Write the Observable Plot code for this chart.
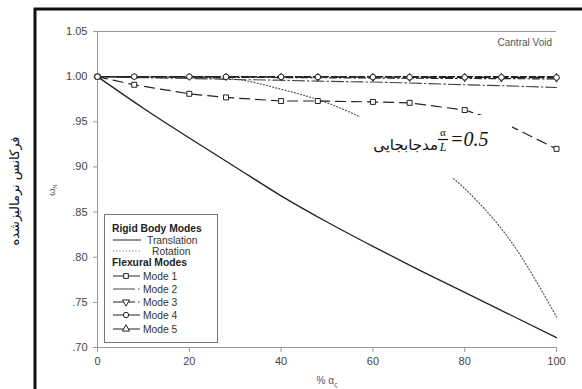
<!DOCTYPE html>
<html>
<head>
<meta charset="utf-8">
<script src="https://cdn.jsdelivr.net/npm/d3@7"></script>
<script src="https://cdn.jsdelivr.net/npm/@observablehq/plot@0.6"></script>
<style>
  html, body { margin: 0; padding: 0; background: #fff; }
  svg { display: block; }
</style>
</head>
<body>
<div id="chart"></div>
<script>
// ---- data ----
const xTicks = [0, 20, 40, 60, 80, 100];
const yTicks = [0.70, 0.75, 0.80, 0.85, 0.90, 0.95, 1.00, 1.05];
const yTickLabels = [".70", ".75", ".80", ".85", ".90", ".95", "1.00", "1.05"];

const xCurve = [0, 10, 20, 30, 40, 50, 60, 70, 80, 90, 100];
const translation = [1.000, 0.965, 0.932, 0.900, 0.868, 0.839, 0.812, 0.786, 0.761, 0.736, 0.711];
const rotation    = [1.000, 0.9995, 0.999, 0.997, 0.986, 0.971, 0.948, 0.916, 0.876, 0.818, 0.734];

const xMarkers = [0, 8, 20, 28, 40, 48, 60, 68, 80, 88, 100];
const mode1 = [1.000, 0.991, 0.981, 0.977, 0.973, 0.973, 0.972, 0.971, 0.963, 0.950, 0.920];
const mode2 = [1.000, 0.999, 0.998, 0.997, 0.996, 0.995, 0.994, 0.993, 0.991, 0.990, 0.988];
const mode3 = [1.000, 0.9998, 0.9995, 0.9993, 0.999, 0.9988, 0.9985, 0.9983, 0.998, 0.9978, 0.9975];
const mode4 = [1.000, 1.000, 1.000, 0.9998, 0.9997, 0.9996, 0.9995, 0.9994, 0.9993, 0.9992, 0.999];
const mode5 = [1.000, 1.000, 1.000, 1.000, 1.000, 1.000, 1.000, 1.000, 1.000, 1.000, 1.000];

const legendRigid = ["Translation", "Rotation"];
const legendModes = ["Mode 1", "Mode 2", "Mode 3", "Mode 4", "Mode 5"];

// ---- tables ----
const curveRows = (ys) => xCurve.map((x, i) => ({x, y: ys[i]}));
const markRows = (ys) => xMarkers.map((x, i) => ({x, y: ys[i]}));

const ink = "#222";
const axisGray = "#999";

const styles = {
  translation: {stroke: ink, strokeWidth: 1.3},
  rotation: {stroke: "#555", strokeWidth: 1.2, strokeDasharray: "1,2.2"},
  mode1: {stroke: ink, strokeWidth: 1.2, strokeDasharray: "10,6"},
  mode2: {stroke: "#444", strokeWidth: 1.1, strokeDasharray: "12,3,1.5,3"},
  mode3: {stroke: ink, strokeWidth: 1.2, strokeDasharray: "7,3,1.5,3"},
  mode4: {stroke: ink, strokeWidth: 1.4, strokeDasharray: "14,4"},
  mode5: {stroke: ink, strokeWidth: 1.4, strokeDasharray: "6,3"}
};

const dotOpts = {fill: "white", stroke: ink, strokeWidth: 1, r: 2.8};
const triOpts = {fill: "white", stroke: ink, strokeWidth: 1, r: 2.1};

const chart = Plot.plot({
  width: 582,
  height: 389,
  marginLeft: 97,
  marginRight: 26,
  marginTop: 31,
  marginBottom: 42,
  style: {fontFamily: "'Liberation Sans', Arial, sans-serif", fontSize: "11px", background: "white"},
  x: {domain: [0, 100], label: null},
  y: {domain: [0.70, 1.05], label: null},
  marks: [
    Plot.axisX(xTicks, {tickSize: 5, tickPadding: 5, stroke: axisGray, fill: "#444", label: null}),
    Plot.axisY(yTicks, {tickSize: 4, tickPadding: 6, stroke: axisGray, fill: "#444", label: null,
      tickFormat: d => yTickLabels[yTicks.findIndex(t => Math.abs(t - d) < 1e-9)]}),
    Plot.ruleX([0], {stroke: axisGray}),
    Plot.ruleY([0.70], {stroke: axisGray}),
    Plot.ruleY([1.05], {stroke: axisGray}),
    Plot.line(curveRows(translation), {x: "x", y: "y", curve: "monotone-x", ...styles.translation}),
    Plot.line(curveRows(rotation), {x: "x", y: "y", curve: "monotone-x", ...styles.rotation}),
    Plot.line(markRows(mode1), {x: "x", y: "y", ...styles.mode1}),
    Plot.line(markRows(mode2), {x: "x", y: "y", ...styles.mode2}),
    Plot.line(markRows(mode3), {x: "x", y: "y", ...styles.mode3}),
    Plot.line(markRows(mode4), {x: "x", y: "y", ...styles.mode4}),
    Plot.line(markRows(mode5), {x: "x", y: "y", ...styles.mode5}),
    Plot.dot(markRows(mode1), {x: "x", y: "y", symbol: "square", ...dotOpts}),
    Plot.dot(markRows(mode3), {x: "x", y: "y", symbol: "triangle", rotate: 180, ...triOpts}),
    Plot.dot(markRows(mode5), {x: "x", y: "y", symbol: "triangle", ...triOpts}),
    Plot.dot(markRows(mode4), {x: "x", y: "y", symbol: "circle", ...dotOpts})
  ]
});

document.getElementById("chart").appendChild(chart);

// ---- decorations ----
const svg = d3.select(chart);
const sans = "'Liberation Sans', Arial, sans-serif";
const serif = "'Liberation Serif', 'Times New Roman', serif";

// outer black frame (open at right/bottom, clipped by the window)
svg.append("path")
  .attr("d", "M35,392 L35,9 L585,9")
  .attr("fill", "none").attr("stroke", "#111").attr("stroke-width", 3);

// Persian y title
svg.append("text")
  .attr("transform", "translate(19,191) rotate(-90)")
  .attr("text-anchor", "middle")
  .attr("font-family", "'DejaVu Sans', 'Noto Sans', sans-serif")
  .attr("font-size", 13).attr("fill", "#111")
  .text("فرکانس نرمالیزشده");

// omega_N label
const wl = svg.append("text")
  .attr("transform", "translate(55,190) rotate(-90)")
  .attr("text-anchor", "middle")
  .attr("font-family", sans).attr("font-size", 9).attr("fill", "#555");
wl.append("tspan").text("ω");
wl.append("tspan").attr("font-size", 6).attr("dy", 2).text("N");

// x label
const xl = svg.append("text")
  .attr("x", 327).attr("y", 384)
  .attr("text-anchor", "middle")
  .attr("font-family", sans).attr("font-size", 10).attr("fill", "#555");
xl.append("tspan").text("% α");
xl.append("tspan").attr("font-size", 7).attr("dy", 3).text("ς");

// Cantral Void
svg.append("text")
  .attr("x", 552).attr("y", 46)
  .attr("text-anchor", "end")
  .attr("font-family", sans).attr("font-size", 10).attr("fill", "#555")
  .text("Cantral Void");

// legend
const lg = svg.append("g").attr("font-family", sans).attr("font-size", 10.3).attr("fill", "#333")
  .attr("text-anchor", "start");
lg.append("rect").attr("x", 104.5).attr("y", 214.5).attr("width", 113).attr("height", 128)
  .attr("fill", "white").attr("stroke", "#777").attr("stroke-width", 1);
lg.append("text").attr("x", 112).attr("y", 232).attr("font-weight", "bold").attr("fill", "#222").text("Rigid Body Modes");
lg.append("text").attr("x", 112).attr("y", 266).attr("font-weight", "bold").attr("fill", "#222").text("Flexural Modes");

const rigidStyles = [styles.translation, styles.rotation];
const rigidY = [240, 251];
const rigidTextX = [147, 152];
legendRigid.forEach((name, i) => {
  const s = rigidStyles[i];
  lg.append("line").attr("x1", 113).attr("x2", 141).attr("y1", rigidY[i]).attr("y2", rigidY[i])
    .attr("stroke", s.stroke).attr("stroke-width", 1).attr("stroke-dasharray", s.strokeDasharray || null);
  lg.append("text").attr("x", rigidTextX[i]).attr("y", rigidY[i] + 3.5).text(name);
});

const modeStyles = [styles.mode1, styles.mode2, styles.mode3, styles.mode4, styles.mode5];
const modeSymbols = [d3.symbolSquare, null, d3.symbolTriangle, d3.symbolCircle, d3.symbolTriangle];
const modeRot = [0, 0, 180, 0, 0];
const modeY = [276, 289, 302, 315, 329];
legendModes.forEach((name, i) => {
  const s = modeStyles[i];
  const y = modeY[i];
  const dash = (i === 1 || i === 2) ? "22,3,1.5,3" : null;
  lg.append("line").attr("x1", 113).attr("x2", 140).attr("y1", y).attr("y2", y)
    .attr("stroke", s.stroke).attr("stroke-width", 1).attr("stroke-dasharray", dash);
  if (modeSymbols[i]) {
    lg.append("path")
      .attr("d", d3.symbol(modeSymbols[i], 22)())
      .attr("transform", `translate(126,${y}) rotate(${modeRot[i]})`)
      .attr("fill", "white").attr("stroke", ink).attr("stroke-width", 1);
  }
  lg.append("text").attr("x", 143).attr("y", y + 3.5).text(name);
});

// annotation box
const an = svg.append("g").attr("text-anchor", "start");
an.append("rect").attr("x", 360).attr("y", 115).attr("width", 152).attr("height", 63).attr("fill", "white");
an.append("text").attr("x", 438).attr("y", 150).attr("text-anchor", "end")
  .attr("font-family", "'DejaVu Sans', 'Noto Sans', sans-serif").attr("font-size", 15).attr("fill", "#111")
  .text("مدجابجایی");
an.append("text").attr("x", 443).attr("y", 136).attr("text-anchor", "middle")
  .attr("font-family", serif).attr("font-size", 11).attr("fill", "#111").text("α");
an.append("line").attr("x1", 438).attr("x2", 448).attr("y1", 139.5).attr("y2", 139.5)
  .attr("stroke", "#111").attr("stroke-width", 1.2);
an.append("text").attr("x", 443).attr("y", 151).attr("text-anchor", "middle")
  .attr("font-family", serif).attr("font-style", "italic").attr("font-size", 12).attr("fill", "#111").text("L");
an.append("text").attr("x", 450).attr("y", 146).attr("text-anchor", "start")
  .attr("font-family", serif).attr("font-style", "italic").attr("font-size", 20).attr("fill", "#111").text("=0.5");
</script>
</body>
</html>
